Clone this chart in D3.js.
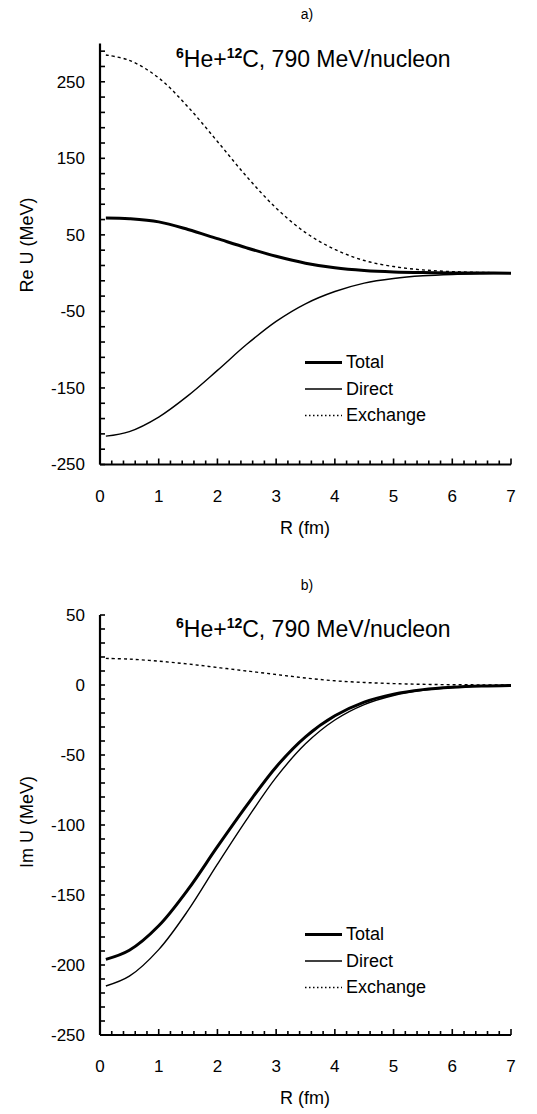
<!DOCTYPE html>
<html>
<head>
<meta charset="utf-8">
<script src="https://cdn.jsdelivr.net/npm/d3@7"></script>
<style>
  body { margin: 0; background: #fff; }
  svg text { font-family: "Liberation Sans", Arial, sans-serif; fill: #000; }
</style>
</head>
<body>
<svg id="chart" width="537" height="1114"></svg>
<script>
// radius points (fm)
var radius = [0.1, 0.5, 1.0, 1.5, 2.0, 2.5, 3.0, 3.5, 4.0, 4.5, 5.0, 5.5, 6.0, 6.5, 7.0];

// a) real part (MeV)
var reTotal    = [72, 71, 67, 57, 45, 33, 22, 13, 7, 3.5, 1.6, 0.7, 0.3, 0.1, 0];
var reDirect   = [-213, -207, -188, -160, -127, -93, -63, -40, -24, -13, -7, -3.5, -1.7, -0.8, -0.3];
var reExchange = [285, 278, 255, 217, 172, 126, 85, 53, 31, 16.5, 8.6, 4.2, 2.0, 0.9, 0.3];

// b) imaginary part (MeV)
var imTotal    = [-196, -189.5, -172, -146, -115.5, -86, -58.5, -37, -22, -12.2, -6.5, -3.3, -1.6, -0.7, -0.3];
var imDirect   = [-215, -208, -189, -161, -128, -96, -66, -42, -25, -14, -7.5, -3.8, -1.8, -0.8, -0.3];
var imExchange = [19, 18.5, 17, 15, 12.5, 10, 7.5, 5, 3, 1.8, 1, 0.5, 0.2, 0.1, 0];

var xTickLabels = [0, 1, 2, 3, 4, 5, 6, 7];
var reTickLabels = [250, 150, 50, -50, -150, -250];
var imTickLabels = [50, 0, -50, -100, -150, -200, -250];
var legendNames = ["Total", "Direct", "Exchange"];

var svg = d3.select("#chart");

function panel(opt) {
    var g = svg.append("g");
    var x = d3.scaleLinear().domain([0, 7]).range([100, 511]);
    var y = d3.scaleLinear().domain(opt.ydom).range(opt.yrange);
    var y0 = opt.yrange[0];

    // panel letter
    g.append("text").attr("x", 307).attr("y", opt.letterY)
        .attr("text-anchor", "middle").attr("font-size", "14px").text(opt.letter);

    // x axis
    var xMinor = d3.range(0, 7.001, 0.2);
    g.selectAll(".xt").data(xMinor).enter().append("line")
        .attr("x1", function(d){ return x(d); }).attr("x2", function(d){ return x(d); })
        .attr("y1", y0).attr("y2", function(d){
            return Math.abs(d - Math.round(d)) < 1e-6 ? y0 - 6 : y0 - 4;
        })
        .attr("stroke", "#000").attr("stroke-width", 1.6);
    g.append("line").attr("x1", x(0)).attr("x2", x(7)).attr("y1", y0).attr("y2", y0)
        .attr("stroke", "#000").attr("stroke-width", 2.2);
    g.selectAll(".xl").data(xTickLabels).enter().append("text")
        .attr("x", function(d){ return x(d); }).attr("y", y0 + 37)
        .attr("text-anchor", "middle").attr("font-size", "17px").text(function(d){ return d; });
    g.append("text").attr("x", 305).attr("y", y0 + 69)
        .attr("text-anchor", "middle").attr("font-size", "18px").text("R (fm)");

    // y axis
    var yMinor = d3.range(opt.ydom[0], opt.ydom[1] + 0.001, opt.ystep);
    g.selectAll(".yt").data(yMinor).enter().append("line")
        .attr("x1", 100).attr("x2", 105)
        .attr("y1", function(d){ return y(d); }).attr("y2", function(d){ return y(d); })
        .attr("stroke", "#000").attr("stroke-width", 1.6);
    g.append("line").attr("x1", 100).attr("x2", 100)
        .attr("y1", y(opt.ydom[1])).attr("y2", y0)
        .attr("stroke", "#000").attr("stroke-width", 2.2);
    g.selectAll(".yl").data(opt.yticks).enter().append("text")
        .attr("x", 85).attr("y", function(d){ return y(d); })
        .attr("dy", "0.35em").attr("text-anchor", "end").attr("font-size", "17px")
        .text(function(d){ return d; });
    g.append("text")
        .attr("transform", "translate(33," + opt.ytitleY + ") rotate(-90)")
        .attr("text-anchor", "middle").attr("font-size", "18px").text(opt.ytitle);

    // title
    var t = g.append("text").attr("x", 176).attr("y", opt.titleY).attr("font-size", "23px");
    t.append("tspan").attr("font-size", "14px").attr("font-weight", "bold").attr("dy", "-9").text("6");
    t.append("tspan").attr("dy", "9").text("He+");
    t.append("tspan").attr("font-size", "14px").attr("font-weight", "bold").attr("dy", "-9").text("12");
    t.append("tspan").attr("dy", "9").text("C, 790 MeV/nucleon");

    // curves
    var line = d3.line()
        .x(function(d){ return x(d[0]); })
        .y(function(d){ return y(d[1]); })
        .curve(d3.curveCatmullRom);
    var styles = [
        {w: 3, dash: null},
        {w: 1.4, dash: null},
        {w: 1.4, dash: "3,3"}
    ];
    opt.series.forEach(function(s, i){
        g.append("path")
            .datum(radius.map(function(r, k){ return [r, s[k]]; }))
            .attr("d", line)
            .attr("fill", "none").attr("stroke", "#000")
            .attr("stroke-width", styles[i].w)
            .attr("stroke-dasharray", styles[i].dash);
    });

    // legend
    legendNames.forEach(function(name, i){
        var by = opt.legendY + i * 26.5;
        g.append("line").attr("x1", 305).attr("x2", 342)
            .attr("y1", by - 5.5).attr("y2", by - 5.5)
            .attr("stroke", "#000").attr("stroke-width", styles[i].w)
            .attr("stroke-dasharray", i === 2 ? "1.5,2.5" : null);
        g.append("text").attr("x", 346).attr("y", by)
            .attr("font-size", "18px").text(name);
    });
}

panel({
    letter: "a)", letterY: 19,
    ydom: [-250, 300], yrange: [464.5, 43.5], ystep: 20,
    yticks: reTickLabels, ytitle: "Re U (MeV)", ytitleY: 245,
    titleY: 67,
    series: [reTotal, reDirect, reExchange],
    legendY: 368
});

panel({
    letter: "b)", letterY: 590,
    ydom: [-250, 50], yrange: [1035, 615], ystep: 10,
    yticks: imTickLabels, ytitle: "Im U (MeV)", ytitleY: 822,
    titleY: 637,
    series: [imTotal, imDirect, imExchange],
    legendY: 940
});
</script>
</body>
</html>
